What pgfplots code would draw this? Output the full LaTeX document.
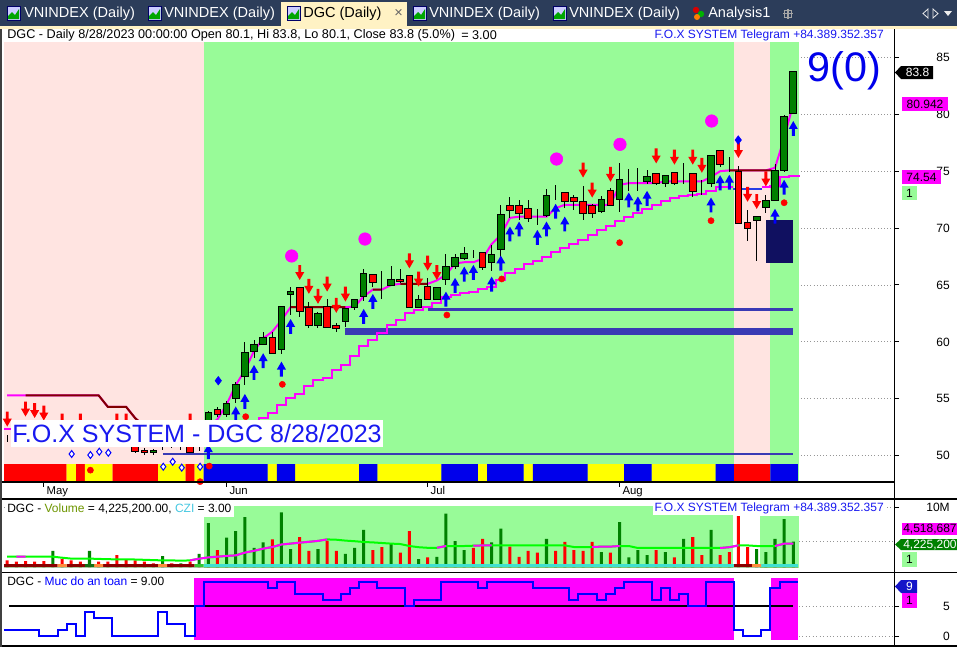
\documentclass[border=0pt]{standalone}
\usepackage{fontspec}
\setmainfont{Liberation Sans}
\usepackage{pgfplots}
\usepackage{pgfplotstable}
\pgfplotsset{compat=1.18}
\usetikzlibrary{plotmarks}

\definecolor{bgpink}{RGB}{255,228,225}
\definecolor{bggreen}{RGB}{152,251,152}
\definecolor{cgreen}{RGB}{0,128,0}
\definecolor{cred}{RGB}{255,0,0}
\definecolor{mag}{RGB}{255,0,255}
\definecolor{maroonc}{RGB}{128,0,0}
\definecolor{lblue}{RGB}{58,58,180}
\definecolor{segblue}{RGB}{40,60,230}
\definecolor{navybox}{RGB}{16,16,96}
\definecolor{syellow}{RGB}{255,255,0}
\definecolor{sblue}{RGB}{0,0,235}
\definecolor{lime}{RGB}{0,255,0}
\definecolor{cyanstrip}{RGB}{64,224,208}
\definecolor{dred}{RGB}{139,0,0}
\definecolor{vorange}{RGB}{255,140,60}
\definecolor{vdgreen}{RGB}{20,110,20}
\definecolor{vbgreen}{RGB}{50,200,50}
\definecolor{tabnavy}{RGB}{44,61,90}
\definecolor{tabyel}{RGB}{255,242,196}
\definecolor{fblue}{RGB}{25,25,240}
\definecolor{gridgray}{RGB}{150,150,150}
\definecolor{volc}{RGB}{110,150,0}
\definecolor{czic}{RGB}{70,200,225}
\definecolor{boxblue}{RGB}{20,20,200}

\pgfdeclareplotmark{dnarrow}{%
  \pgfpathmoveto{\pgfqpoint{-1.1pt}{5.6pt}}%
  \pgfpathlineto{\pgfqpoint{1.1pt}{5.6pt}}%
  \pgfpathlineto{\pgfqpoint{1.1pt}{0.3pt}}%
  \pgfpathlineto{\pgfqpoint{3.4pt}{0.3pt}}%
  \pgfpathlineto{\pgfqpoint{0pt}{-5.6pt}}%
  \pgfpathlineto{\pgfqpoint{-3.4pt}{0.3pt}}%
  \pgfpathlineto{\pgfqpoint{-1.1pt}{0.3pt}}%
  \pgfpathclose\pgfusepathqfill}
\pgfdeclareplotmark{uparrow}{%
  \pgfpathmoveto{\pgfqpoint{-1.1pt}{-5.6pt}}%
  \pgfpathlineto{\pgfqpoint{1.1pt}{-5.6pt}}%
  \pgfpathlineto{\pgfqpoint{1.1pt}{-0.3pt}}%
  \pgfpathlineto{\pgfqpoint{3.4pt}{-0.3pt}}%
  \pgfpathlineto{\pgfqpoint{0pt}{5.6pt}}%
  \pgfpathlineto{\pgfqpoint{-3.4pt}{-0.3pt}}%
  \pgfpathlineto{\pgfqpoint{-1.1pt}{-0.3pt}}%
  \pgfpathclose\pgfusepathqfill}

\pgfplotstableread{
i o h l c
-4 51.55 51.8 51.2 51.55
-3 51.8 52.2 51.2 51.4
-2 51.4 52.0 51.1 51.7
-1 51.7 52.1 51.3 51.5
0 51.5 51.9 51.0 51.2
1 51.2 52.3 51.0 52.0
2 52.0 52.4 51.5 51.7
3 51.7 51.9 51.1 51.3
4 51.3 51.6 50.9 51.1
5 51.1 52.2 51.0 51.9
6 51.9 52.0 51.3 51.5
7 51.5 51.7 51.0 51.2
8 51.2 51.4 50.9 51.0
9 51.0 51.3 50.8 50.9
10 50.8 51.0 50.2 50.4
11 50.5 50.7 50.1 50.25
12 50.25 50.6 50.1 50.45
13 50.8 51.3 50.5 50.8
14 50.9 51.4 50.7 51.2
15 50.8 51.2 50.5 50.8
16 50.8 51.0 50.2 50.3
17 50.8 51.2 50.4 50.8
18 53.1 53.9 52.9 53.8
19 54.1 54.3 53.4 53.6
20 53.6 54.8 53.4 54.6
21 55.0 56.5 54.6 56.3
22 57.0 60.0 56.2 59.1
23 59.2 60.2 58.6 59.8
24 59.8 60.9 59.7 60.4
25 60.4 60.9 58.9 59.0
26 59.3 63.1 58.9 63.1
27 64.2 64.85 62.4 64.4
28 64.8 64.8 62.2 62.7
29 63.0 63.55 61.2 61.4
30 61.4 62.6 61.2 62.5
31 63.1 63.8 61.2 61.3
32 61.4 61.7 60.9 61.2
33 61.8 62.9 61.3 62.9
34 63.0 63.8 62.8 63.7
35 64.0 66.4 63.6 66.0
36 65.9 65.9 64.8 65.25
37 65.0 66.2 63.8 65.0
38 65.0 66.7 64.9 65.5
39 65.5 66.4 65.2 65.3
40 65.8 65.8 63.0 63.0
41 63.0 64.1 63.0 63.75
42 64.9 65.6 63.75 63.75
43 63.75 64.8 63.7 64.8
44 65.5 67.7 65.0 66.6
45 66.6 67.7 66.4 67.45
46 67.3 68.3 67.2 67.8
47 67.85 68.1 67.4 67.85
48 67.9 67.9 66.3 66.5
49 67.0 68.5 66.2 67.7
50 68.1 72.0 67.4 71.2
51 71.95 72.7 70.9 71.55
52 71.95 72.5 70.7 71.3
53 71.7 72.5 70.5 70.8
54 71.0 71.7 70.3 71.0
55 71.1 73.4 71.0 72.85
56 73.0 73.8 72.5 73.0
57 73.1 73.1 71.8 72.3
58 72.65 72.9 71.6 72.3
59 72.3 73.7 70.7 71.25
60 71.95 72.1 70.9 71.25
61 71.5 72.8 71.3 72.55
62 73.3 73.5 71.9 71.95
63 72.5 75.7 71.4 74.3
64 74.0 75.2 73.3 74.0
65 74.0 75.3 73.3 74.0
66 74.1 75.1 73.9 74.5
67 74.8 74.8 73.8 73.9
68 73.95 74.7 73.6 74.6
69 74.9 74.9 73.8 73.95
70 74.1 75.7 73.85 74.1
71 74.8 74.8 72.76 73.2
72 73.4 74.2 72.9 73.4
73 73.9 76.4 73.6 76.4
74 76.8 76.8 75.4 75.6
75 75.6 76.27 74.96 75.6
76 75.0 75.45 70.4 70.4
77 70.5 71.6 68.9 70.0
78 70.7 71.1 67.1 71.0
79 71.8 72.9 71.3 72.4
80 72.4 75.6 72.4 75.05
81 75.1 79.9 74.9 79.8
82 80.1 83.8 80.1 83.8
}\candles

% colour strip: 1 red, 2 yellow, 3 blue
\pgfplotstableread{
i s
-4 1
-3 1
-2 1
-1 1
0 1
1 1
2 1
3 2
4 1
5 2
6 2
7 2
8 1
9 1
10 1
11 1
12 1
13 2
14 2
15 2
16 1
17 2
18 3
19 3
20 3
21 3
22 3
23 3
24 3
25 2
26 3
27 3
28 2
29 2
30 2
31 2
32 2
33 2
34 2
35 3
36 3
37 2
38 2
39 2
40 2
41 2
42 2
43 2
44 3
45 3
46 3
47 3
48 2
49 3
50 3
51 3
52 3
53 2
54 3
55 3
56 3
57 3
58 3
59 3
60 2
61 2
62 2
63 2
64 3
65 3
66 3
67 2
68 2
69 2
70 2
71 2
72 2
73 2
74 3
75 3
76 1
77 1
78 1
79 1
80 3
81 3
82 3
}\strip

\pgfplotstableread{
i v
-4.35 52.35
17 52.35
18 52.6
21 52.6
22 53.0
23 53.0
24 53.3
25 53.75
26 54.45
27 55.1
28 55.4
29 56.1
30 56.65
31 56.85
32 57.5
33 58.0
34 58.8
35 59.6
36 60.2
37 60.8
38 61.5
39 61.9
40 62.55
41 62.8
42 63.1
43 63.4
44 63.95
45 64.1
46 64.3
47 64.4
48 64.65
49 64.85
50 65.45
51 66.05
52 66.4
53 66.85
54 67.15
55 67.5
56 67.9
57 68.25
58 68.6
59 68.95
60 69.35
61 69.8
62 70.15
63 70.65
64 71.0
65 71.35
66 71.7
67 72.0
68 72.4
69 72.65
70 72.85
71 72.95
72 73.0
73 73.3
74 73.6
75 73.6
75.45 73.6
}\lowerA

\pgfplotstableread{
i v
78.55 73.6
79 73.6
80 73.7
81 74.5
82 74.54
82.7 74.54
}\lowerB

\pgfplotstableread{
i v
-4 55.3
-3 55.3
-2 55.3
-1 55.3
0 55.3
1 55.3
2 55.3
3 55.3
4 55.3
5 55.3
6 55.3
7 54.3
8 54.3
9 54.3
10 53.3
11 52.6
12 52.4
13 52.3
14 52.3
15 52.3
16 52.3
17 52.3
18 52.6
19 53.2
20 54.5
21 56.2
22 57.5
23 59.2
24 60.3
25 60.9
26 61.9
27 63.05
28 63.05
29 63.05
30 63.05
31 63.05
32 63.05
33 63.05
34 63.1
35 64.0
36 64.6
37 64.6
38 65.0
39 65.1
40 65.1
41 65.1
42 65.1
43 65.4
44 65.9
45 66.9
46 67.0
47 67.0
48 67.3
49 68.6
50 69.4
51 70.9
52 71.0
53 71.0
54 71.0
55 71.0
56 71.75
57 72.05
58 72.05
59 72.05
60 72.05
61 72.05
62 72.05
63 73.8
64 73.95
65 73.95
66 73.95
67 73.95
68 74.1
69 74.1
70 74.1
71 74.1
72 74.1
73 74.5
74 75.0
75 75.07
76 75.07
77 75.07
78 75.07
79 75.07
80 75.3
81 77.9
82 80.94
}\upper

\pgfplotstableread{
i p
-4 53.22
-2 54.1
-1 53.97
0 53.75
2 53.05
4 53.05
8 53.05
9 53.05
16 53.05
28 66.1
29 64.88
30 64.0
31 65.08
32 63.21
33 64.2
40 67.12
41 65.52
42 66.92
43 66.1
59 75.1
60 73.34
62 74.73
67 76.34
69 76.23
71 76.23
72 75.52
76 76.82
77 72.97
78 72.34
79 74.32
}\sells

\pgfplotstableread{
i p
18 50.35
21 53.67
22 54.77
23 57.32
24 58.35
26 57.61
27 61.36
35 62.24
36 63.56
44 63.76
45 64.97
46 65.96
47 66.11
49 65.08
50 66.93
51 69.48
52 69.92
54 69.19
55 69.92
56 71.48
57 70.36
64 72.47
65 72.12
66 72.62
73 72.03
74 73.98
75 74.03
80 71.04
81 73.59
82 78.75
}\buys

\pgfplotstableread{
i v up s
-4 1.1 0 1
-3 0.9 0 1
-2 1.0 0 1
-1 0.9 0 1
0 1.0 0 1
1 2.7 1 1
2 1.3 0 2
3 1.1 0 1
4 0.9 0 1
5 2.7 1 3
6 0.9 0 2
7 0.9 0 1
8 2.0 0 1
9 1.3 0 1
10 1.1 0 1
11 0.9 0 1
12 0.6 0 1
13 1.8 1 2
14 0.6 0 1
15 0.6 1 1
16 0.9 0 1
17 2.2 1 5
18 7.3 1 4
19 2.8 0 4
20 4.9 1 4
21 6.0 1 4
22 8.3 1 4
23 3.2 1 4
24 4.1 1 4
25 4.6 0 4
26 9.1 1 4
27 3.0 1 4
28 5.0 0 4
29 2.7 0 4
30 3.0 1 4
31 4.4 0 4
32 2.7 0 4
33 2.2 1 4
34 3.2 1 4
35 6.2 1 4
36 2.8 0 4
37 3.3 0 4
38 3.8 1 4
39 2.4 0 4
40 6.0 0 4
41 1.3 1 4
42 1.6 0 4
43 1.7 1 4
44 8.9 1 4
45 4.3 1 4
46 2.8 1 4
47 3.2 0 4
48 4.7 0 4
49 4.1 1 4
50 6.4 1 4
51 3.4 0 4
52 1.7 0 4
53 2.7 0 4
54 2.4 0 4
55 4.7 1 4
56 2.7 0 4
57 4.2 0 4
58 2.8 0 4
59 2.7 0 4
60 4.2 0 4
61 2.5 1 4
62 2.4 0 4
63 7.5 1 4
64 1.6 1 4
65 2.8 1 4
66 2.0 1 4
67 2.8 0 4
68 2.5 1 4
69 1.6 0 4
70 4.7 1 4
71 5.0 0 4
72 2.0 0 4
73 6.2 1 4
74 2.0 0 4
75 2.5 0 4
76 8.5 0 1
77 3.3 0 1
78 3.0 1 2
79 2.5 1 4
80 4.7 1 4
81 8.0 1 4
82 4.2252 1 4
}\vol

\pgfplotstableread{
i m
-4 1.72
-3 1.72
-2 1.72
-1 1.72
0 1.72
1 1.72
2 1.55
3 1.4
4 1.4
5 1.4
6 1.35
7 1.3
8 1.28
9 1.28
10 1.25
11 1.2
12 1.15
13 1.1
14 1.1
15 1.06
16 1.1
17 1.39
18 1.6
19 1.72
20 1.85
21 1.94
22 2.4
23 2.7
24 3.06
25 3.33
26 3.75
27 3.9
28 4.06
29 4.2
30 4.35
31 4.6
32 4.55
33 4.4
34 4.3
35 4.17
36 4.1
37 4.0
38 3.9
39 3.83
40 3.5
41 3.3
42 3.2
43 3.2
44 3.5
45 3.5
46 3.5
47 3.55
48 3.6
49 3.6
50 3.6
51 3.6
52 3.6
53 3.6
54 3.6
55 3.6
56 3.6
57 3.6
58 3.33
59 3.33
60 3.33
61 3.4
62 3.4
63 3.5
64 3.5
65 3.17
66 3.17
67 3.17
68 3.17
69 3.17
70 3.17
71 3.17
72 3.17
73 3.17
74 3.17
75 3.3
76 3.6
77 3.6
78 3.5
79 3.5
80 3.5
81 3.89
82 3.89
}\volma

\pgfplotstableread{
i v
-4.35 1
-4 1
-3 1
-2 1
-1 1
0 0
1 0
2 1
3 2
4 0
5 4
6 3
7 3
8 0
9 0
10 0
11 0
12 0
13 4
14 2
15 2
16 0
17 5
18 9
19 9
20 9
21 9
22 9
23 9
24 9
25 8
26 9
27 9
28 7
29 7
30 7
31 6
32 6
33 7
34 8
35 9
36 9
37 8
38 8
39 8
40 5
41 6
42 6
43 6
44 9
45 9
46 9
47 9
48 8
49 9
50 9
51 9
52 9
53 9
54 8
55 8
56 8
57 8
58 6
59 7
60 7
61 6
62 7
63 8
64 9
65 9
66 9
67 6
68 8
69 6
70 7
71 5
72 5
73 9
74 9
75 9
76 1
77 0
78 0
79 1
80 8
81 9
82 9
82.57 9
}\safety

\pgfplotsset{
  panel/.style={scale only axis, width=667.5pt, xmin=-4.354, xmax=93.02, anchor=south west},
  pricepanel/.style={panel, at={(3pt,-361.125pt)}, height=340.125pt, ymin=47.733, ymax=87.583},
  rightlabels/.style={
    axis line style={draw=none}, ytick pos=right, yticklabel pos=right,
    tick align=outside, major tick length=3.75pt, tick style={black, line width=0.75pt},
    /pgf/number format/assume math mode=true,
    yticklabel style={font=\fontsize{9}{10}\selectfont, anchor=east, inner sep=0pt, xshift=38.25pt},
  },
}

\begin{document}
\begin{tikzpicture}[x=0.75pt,y=-0.75pt]
\useasboundingbox (0,0) rectangle (957,647);
\fill[white] (0,0) rectangle (957,647);

% ================= PRICE PANEL (background, lines, strip) =================
\begin{axis}[pricepanel, rightlabels,
  ytick={50,55,...,85},
  xtick={0,20,42,63}, xticklabels={May,Jun,Jul,Aug}, xtick pos=bottom,
  xticklabel style={font=\fontsize{8.5}{10}\selectfont, anchor=north west, inner sep=0pt, xshift=2pt},
  ymajorgrids, grid style={gridgray, dotted, line width=0.6pt},
]
\addplot[draw=none, fill=bgpink] coordinates {(-4.4,47) (-4.4,86.35) (17.5,86.35) (17.5,47)} -- cycle;
\addplot[draw=none, fill=bggreen] coordinates {(17.5,47) (17.5,86.35) (75.5,86.35) (75.5,47)} -- cycle;
\addplot[draw=none, fill=bgpink] coordinates {(75.5,47) (75.5,86.35) (79.5,86.35) (79.5,47)} -- cycle;
\addplot[draw=none, fill=bggreen] coordinates {(79.5,47) (79.5,86.35) (82.65,86.35) (82.65,47)} -- cycle;
% support / resistance lines
\addplot[lblue, line width=2.2pt] coordinates {(13.04,50.15) (82,50.15)};
\addplot[lblue, line width=2pt] coordinates {(42.03,62.82) (82,62.82)};
\addplot[lblue, line width=5.25pt] coordinates {(32.95,60.91) (82,60.91)};
\addplot[draw=none, fill=navybox] coordinates {(79,66.95) (79,70.7) (82,70.7) (82,66.95)} -- cycle;
% trailing lines
\addplot[mag, line width=1.5pt, const plot mark mid] table[x=i, y=v] \lowerA;
\addplot[segblue, line width=1.5pt] coordinates {(75.45,73.45) (78.55,73.45)};
\addplot[mag, line width=1.5pt, const plot mark mid] table[x=i, y=v] \lowerB;
\addplot[mag, line width=1.5pt] table[x=i, y=v] \upper;
\addplot[maroonc, line width=1.5pt, unbounded coords=jump] coordinates {
 (-2,55.3) (6,55.3) (7,54.3) (9,54.3) (10,53.3) (11,52.6) (17,52.3)
 (26.5,nan) (27,63.05) (33,63.05)
 (34.5,nan) (36,64.6) (37,64.6)
 (38,nan) (39,65.1) (42,65.1)
 (50,nan) (75,75.07) (79.6,75.07)};
% colour strip
\addplot[ybar, bar shift=0pt, bar width=1, fill=cred, draw=none] table[x=i, y expr={ifthenelse(\thisrow{s}==1,49.27,0)}] \strip;
\addplot[ybar, bar shift=0pt, bar width=1, fill=syellow, draw=none] table[x=i, y expr={ifthenelse(\thisrow{s}==2,49.27,0)}] \strip;
\addplot[ybar, bar shift=0pt, bar width=1, fill=sblue, draw=none] table[x=i, y expr={ifthenelse(\thisrow{s}==3,49.27,0)}] \strip;
\end{axis}

% ================= CANDLE WICKS =================
\begin{axis}[pricepanel, hide axis]
\addplot[only marks, mark=*, mark options={draw opacity=0, fill opacity=0},
  error bars/.cd, y dir=both, y explicit, error mark=none,
  error bar style={black, line width=0.75pt}]
  table[x=i, y expr={(\thisrow{h}+\thisrow{l})/2}, y error expr={(\thisrow{h}-\thisrow{l})/2}] \candles;
\end{axis}

% ================= CANDLE BODIES =================
\begin{axis}[pricepanel, hide axis, ybar stacked, bar shift=0pt, bar width=0.72]
\addplot[draw=none, fill=none] table[x=i, y expr={min(\thisrow{o},\thisrow{c})}] \candles;
\addplot[draw=black, line width=0.75pt, fill=cgreen] table[x=i, y expr={max(\thisrow{c}-\thisrow{o},0)}] \candles;
\addplot[draw=black, line width=0.75pt, fill=cred] table[x=i, y expr={max(\thisrow{o}-\thisrow{c},0)}] \candles;
\end{axis}

% ================= SIGNAL MARKERS =================
\begin{axis}[pricepanel, hide axis, clip=false]
\addplot[only marks, mark=dnarrow, color=cred] table[x=i, y=p] \sells;
\addplot[only marks, mark=uparrow, color=blue] table[x=i, y=p] \buys;
\addplot[only marks, mark=*, mark size=4.7pt, color=mag] coordinates {(27.12,67.55) (35.14,69.04) (56.1,76.07) (63.04,77.36) (73.07,79.41)};
\addplot[only marks, mark=*, mark size=2.3pt, color=cred] coordinates {(22.09,53.43) (26.1,56.27) (44.1,62.36) (50.1,65.53) (63,68.72) (73,70.65) (81,72.23) (5.1,48.73) (18.1,49.09) (17.1,47.72)};
\addplot[only marks, mark=diamond*, mark size=3.2pt, color=blue] coordinates {(19.09,56.59) (75.98,77.74)};
\addplot[only marks, mark=diamond*, mark size=2.6pt, mark options={draw=blue, fill=white, line width=0.75pt}] coordinates {(3.05,50.15) (5.1,50.06) (6.07,50.35) (7.06,50.26) (13.07,49.03) (14.1,49.47) (15.09,48.95) (17.1,49.03)};
\end{axis}

% ================= VOLUME PANEL =================
\begin{axis}[panel, rightlabels, at={(3pt,-429pt)}, height=54.75pt, ymin=-0.8333, ymax=11.333,
  xtick=\empty, ytick={10}, yticklabels={10M},
  ymajorgrids, grid style={gridgray, dotted, line width=0.6pt}]
\addplot[draw=none, fill=bggreen] coordinates {(17.5,-0.1) (17.5,10.17) (75.4,10.17) (75.4,-0.1)} -- cycle;
\addplot[draw=none, fill=bggreen] coordinates {(78.4,-0.1) (78.4,8.5) (82.6,8.5) (82.6,-0.1)} -- cycle;
\addplot[ybar, bar shift=0pt, bar width=0.33, fill=cgreen, draw=none] table[x=i, y expr={\thisrow{v}*\thisrow{up}}] \vol;
\addplot[ybar, bar shift=0pt, bar width=0.33, fill=cred, draw=none] table[x=i, y expr={\thisrow{v}*(1-\thisrow{up})}] \vol;
\addplot[ybar, bar shift=0pt, bar width=1, fill=dred, draw=none] table[x=i, y expr={ifthenelse(\thisrow{s}==1,0.5,0)}] \vol;
\addplot[ybar, bar shift=0pt, bar width=1, fill=vorange, draw=none] table[x=i, y expr={ifthenelse(\thisrow{s}==2,0.5,0)}] \vol;
\addplot[ybar, bar shift=0pt, bar width=1, fill=vdgreen, draw=none] table[x=i, y expr={ifthenelse(\thisrow{s}==3,0.5,0)}] \vol;
\addplot[ybar, bar shift=0pt, bar width=1, fill=cyanstrip, draw=none] table[x=i, y expr={ifthenelse(\thisrow{s}==4,0.5,0)}] \vol;
\addplot[ybar, bar shift=0pt, bar width=1, fill=vbgreen, draw=none] table[x=i, y expr={ifthenelse(\thisrow{s}==5,0.5,0)}] \vol;
\addplot[lime, line width=1.5pt] table[x=i, y=m] \volma;
\addplot[mag, line width=1.5pt, unbounded coords=jump] coordinates {
 (-3,1.72) (-2,1.72) (-1.5,nan) (16,1.1) (17,1.39) (18,1.6) (19,1.72) (20,1.85) (21,1.94) (22,2.4) (23,2.7)
 (24,3.06) (25,3.33) (26,3.75) (27,3.9) (28,4.06) (29,4.2) (30,4.35) (31,4.6) (31.5,nan)
 (43,3.2) (44,3.5) (44.5,nan) (47,3.55) (48,3.6) (49,3.6) (49.5,nan)
 (60,3.33) (61,3.4) (62,3.4) (63,3.5) (63.5,nan) (74,3.17) (75,3.3) (76,3.6) (76.5,nan)
 (80,3.5) (81,3.89) (82,3.89)};
\addplot[gridgray, dotted, line width=0.6pt] coordinates {(82.6,4.2252) (93,4.2252)};
\end{axis}

% ================= SAFETY PANEL =================
\begin{axis}[panel, rightlabels, at={(3pt,-484.125pt)}, height=54.375pt, ymin=-1.583, ymax=10.5,
  xtick=\empty, ytick={0,5}]
\addplot[draw=none, fill=mag] coordinates {(16.45,-0.67) (16.45,9.67) (75.5,9.67) (75.5,-0.67)} -- cycle;
\addplot[draw=none, fill=mag] coordinates {(79.56,-0.67) (79.56,9.67) (82.57,9.67) (82.57,-0.67)} -- cycle;
\addplot[black, line width=1.5pt] coordinates {(-3.8,5) (82,5)};
\addplot[blue, line width=1.5pt, const plot mark mid] table[x=i, y=v] \safety;
\addplot[gridgray, dotted, line width=0.6pt] coordinates {(82.6,5) (93,5)};
\addplot[gridgray, dotted, line width=0.6pt] coordinates {(82.6,0) (93,0)};
\end{axis}

% ================= FRAMES =================
\draw[black, line width=0.9pt] (894.5,28.5) -- (894.5,647);
\draw[black, line width=0.9pt] (0,482) -- (894.5,482);
\draw[black, line width=1.1pt] (0,498.8) -- (957,498.8);
\draw[black, line width=1.1pt] (0,572.5) -- (957,572.5);
\draw[black, line width=1.1pt] (0,645.8) -- (957,645.8);
\draw[black!75, line width=1.5pt] (0.8,28.5) -- (0.8,647);

% ================= TEXTS ON CHART =================
\node[anchor=west, inner sep=0pt, font=\fontsize{9.5}{11}\selectfont] at (7,35.5) {DGC - Daily 8/28/2023 00:00:00 Open 80.1, Hi 83.8, Lo 80.1, Close 83.8 (5.0\%)};
\node[anchor=west, inner sep=0pt, font=\fontsize{9.5}{11}\selectfont] at (461,35.5) {= 3.00};
\node[anchor=west, inner sep=1pt, fill=white, text=fblue, font=\fontsize{9}{10}\selectfont] at (653,35.5) {F.O.X SYSTEM Telegram +84.389.352.357};
\node[text=sblue, inner sep=0pt, font=\fontsize{31}{34}\selectfont] at (844.5,71) {9(0)};
\fill[white] (11,419.5) rectangle (383,447);
\node[text=fblue, inner sep=0pt] at (197,434) {\resizebox{277pt}{!}{\fontsize{19}{22}\selectfont F.O.X SYSTEM - DGC 8/28/2023}};

\fill[white] (5,500.5) rectangle (234,516.5);
\node[anchor=west, inner sep=0pt, font=\fontsize{9}{10}\selectfont] at (7,508.5) {DGC - \textcolor{volc}{Volume} = 4,225,200.00, \textcolor{czic}{CZI} = 3.00};
\node[anchor=west, inner sep=1pt, fill=white, text=fblue, font=\fontsize{9}{10}\selectfont] at (653,508.5) {F.O.X SYSTEM Telegram +84.389.352.357};
\node[anchor=west, inner sep=0pt, font=\fontsize{9}{10}\selectfont] at (7,581) {DGC - \textcolor{blue}{Muc do an toan} = 9.00};

% right-side value boxes
\fill[black] (895,72.5) -- (901,66) -- (933,66) -- (933,79) -- (901,79) -- cycle;
\node[text=white, inner sep=0pt, font=\fontsize{9}{10}\selectfont] at (917.5,72.8) {83.8};
\fill[mag] (902,97) rectangle (948,111);
\node[inner sep=0pt, font=\fontsize{9}{10}\selectfont] at (925,104.2) {80.942};
\fill[mag] (902,170) rectangle (941,184);
\node[inner sep=0pt, font=\fontsize{9}{10}\selectfont] at (921.5,177.2) {74.54};
\fill[bggreen] (902,186) rectangle (917,199.5);
\node[inner sep=0pt, font=\fontsize{9}{10}\selectfont] at (909.5,193) {1};

\fill[mag] (902,523) rectangle (957,535);
\node[anchor=west, inner sep=0pt, font=\fontsize{9}{10}\selectfont] at (903,529.2) {4,518,687};
\fill[cgreen] (895,544.5) -- (901,539) -- (957,539) -- (957,550) -- (901,550) -- cycle;
\node[anchor=west, text=white, inner sep=0pt, font=\fontsize{9}{10}\selectfont] at (903,544.7) {4,225,200};
\fill[bggreen] (902,551.5) rectangle (917,566.5);
\node[inner sep=0pt, font=\fontsize{9}{10}\selectfont] at (909.5,559) {1};

\fill[boxblue] (895,586.5) -- (901,580) -- (917,580) -- (917,593) -- (901,593) -- cycle;
\node[text=white, inner sep=0pt, font=\fontsize{9}{10}\selectfont] at (909.5,586.7) {9};
\fill[mag] (902,593) rectangle (917,608);
\node[inner sep=0pt, font=\fontsize{9}{10}\selectfont] at (909.5,600.5) {1};

% ================= TAB BAR =================
\fill[tabnavy] (0,0) rectangle (957,25.5);
\fill[tabyel] (0,25.5) rectangle (957,28.5);
\fill[tabyel] (281,2) rectangle (407,25.5);
\foreach \xx in {7,148,287,413,553} {
  \fill[white!80!blue] (\xx,6) rectangle ++(13,14);
  \fill[green!65!black] (\xx+1,19) -- (\xx+1,16) -- (\xx+5,12) -- (\xx+8,15) -- (\xx+12,9) -- (\xx+12,19) -- cycle;
  \draw[blue!40!black, line width=0.5pt] (\xx,6) rectangle ++(13,14);
}
\fill[red!85!black] (696,10) circle (3.2);
\fill[green!70!black] (701,14) circle (3.2);
\fill[orange] (697,17) circle (3);
\draw[gray!70, line width=1pt] (783,13.5) -- (793,13.5) (788,8.5) -- (788,18.5);
\draw[gray!70, line width=0.6pt] (784.5,10) rectangle (791.5,17);
\begin{scope}[font=\fontsize{10.9}{12}\selectfont, inner sep=0pt]
\node[anchor=west, text=white] at (24,13.5) {VNINDEX (Daily)};
\node[anchor=west, text=white] at (164,13.5) {VNINDEX (Daily)};
\node[anchor=west, text=black] at (303,13.5) {DGC (Daily)};
\node[anchor=west, text=black!60] at (394,13) {×};
\node[anchor=west, text=white] at (429,13.5) {VNINDEX (Daily)};
\node[anchor=west, text=white] at (569,13.5) {VNINDEX (Daily)};
\node[anchor=west, text=white] at (708,13.5) {Analysis1};
\end{scope}
\draw[white!85!gray, line width=0.6pt] (928,9) -- (923,13.5) -- (928,18) -- cycle;
\draw[white!85!gray, line width=0.6pt] (933,9) -- (938,13.5) -- (933,18) -- cycle;
\fill[white!85!gray] (944,11) -- (952,11) -- (948,16) -- cycle;
\end{tikzpicture}
\end{document}
